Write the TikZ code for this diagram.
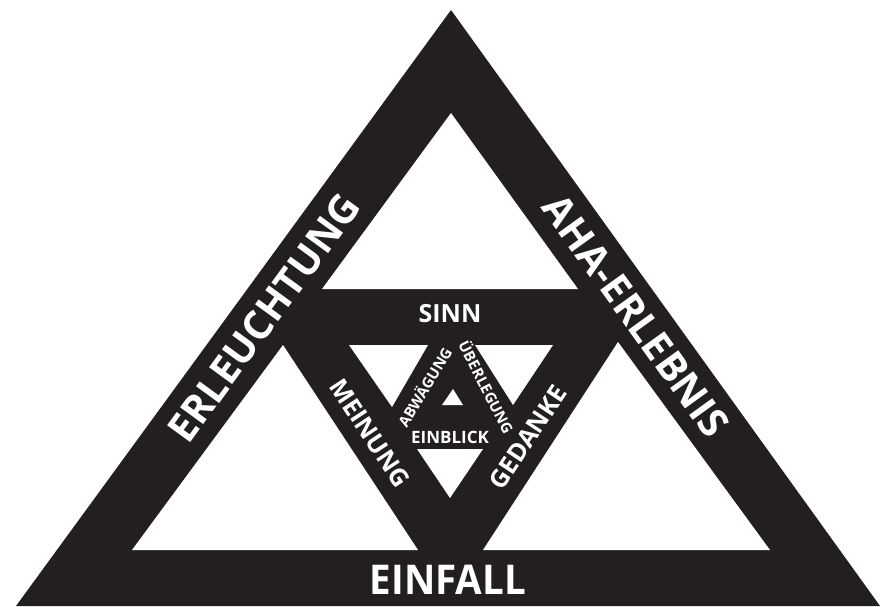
\documentclass[tikz,border=0pt]{standalone}
\usepackage{fontspec}
\setmainfont{Open Sans}
\definecolor{ink}{HTML}{231F20}
\tikzset{
  hole/.style={fill=white, draw=none},
  lbl/.style={text=white, font=\bfseries, inner sep=0pt, anchor=center},
}
\begin{document}
\begin{tikzpicture}[x=1pt,y=-1pt]
\useasboundingbox (0,0) rectangle (880,606);
\clip (0,0) rectangle (880,606);
% outer black triangle
\fill[ink] (451,10) -- (16,606) -- (880,606) -- cycle;
% big white holes
\fill[hole] (451,113) -- (322,289) -- (578,289) -- cycle;
\fill[hole] (132,550) -- (283,345) -- (418,550) -- cycle;
\fill[hole] (483,550) -- (618,342) -- (770,550) -- cycle;
% middle white holes
\fill[hole] (349,345) -- (428,345) -- (392,407) -- cycle;
\fill[hole] (475,345) -- (553,345) -- (513,405) -- cycle;
\fill[hole] (417,449) -- (483,449) -- (450,498) -- cycle;
\fill[hole] (442,405) -- (463,405) -- (453,389) -- cycle;
% labels
\node[lbl, font=\bfseries\fontsize{40}{40}\selectfont, rotate=53.9] (erl) at (264,318) {ERLEUCHTUNG};
\node[lbl, font=\bfseries\fontsize{40}{40}\selectfont, rotate=-54.2] (aha) at (636,316) {AHA-ERLEBNIS};
\node[lbl, font=\bfseries\fontsize{41}{41}\selectfont, xscale=0.94] (einfall) at (448,580) {EINFALL};
\node[lbl, font=\bfseries\fontsize{25}{25}\selectfont] (sinn) at (450,314) {SINN};
\node[lbl, font=\bfseries\fontsize{25}{25}\selectfont, rotate=-56.6] (mein) at (370,433) {MEINUNG};
\node[lbl, font=\bfseries\fontsize{25}{25}\selectfont, rotate=56.6] (ged) at (528,437) {GEDANKE};
\node[lbl, font=\bfseries\fontsize{15}{15}\selectfont, rotate=59] (abw) at (424,387) {ABWÄGUNG};
\node[lbl, font=\bfseries\fontsize{15}{15}\selectfont, rotate=-63] (ueb) at (487,387) {ÜBERLEGUNG};
\node[lbl, font=\bfseries\fontsize{17}{17}\selectfont] (einb) at (450,437) {EINBLICK};
\end{tikzpicture}
\end{document}
